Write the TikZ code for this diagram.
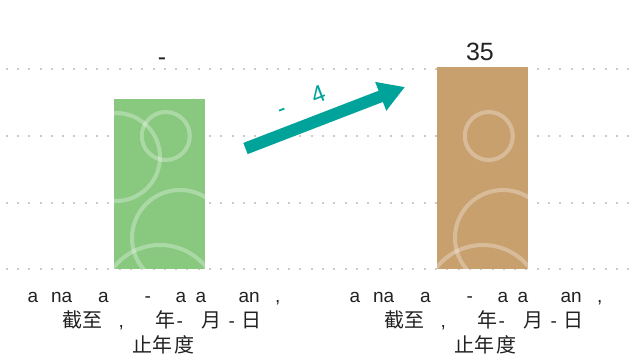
\documentclass[tikz,border=0pt]{standalone}
\usepackage{fontspec}
\setmainfont{Liberation Sans}
\newfontfamily\cjkf{Noto Sans CJK SC}
\usetikzlibrary{arrows.meta}
\definecolor{barGreen}{HTML}{88C97F}
\definecolor{barBrown}{HTML}{C8A06E}
\definecolor{tealArrow}{HTML}{00A39A}
\definecolor{gridDot}{HTML}{CFCBC6}
\definecolor{txt}{HTML}{222222}
\newcommand\pc[2]{\makebox[0pt][l]{\hspace*{#1pt}#2}}
\newcommand\lt{\fontsize{19}{24}\selectfont}
\newcommand\ck{\cjkf\fontsize{20}{24}\selectfont}
\begin{document}
\begin{tikzpicture}[x=1pt,y=-1pt,
  griddot/.style={fill=gridDot, draw=none},
  barbox/.style={draw=none, inner sep=0pt, minimum width=91pt, anchor=south west},
  ring/.style={white, opacity=0.3, line width=4pt},
  lbl/.style={anchor=base west, inner sep=0pt, text=txt},
  val/.style={anchor=base, inner sep=0pt, text=txt, font=\fontsize{25}{30}\selectfont}]
\useasboundingbox (0,0) rectangle (633,359);
% grid lines (dotted)
\foreach \yy in {69,136,203,269}{
  \foreach \i in {0,...,55}{
    \fill[griddot] (6.6+11.3*\i-1,\yy-1) rectangle ++(2,2);
  }
}
% bars
\node (gbar) [barbox, fill=barGreen, minimum height=170pt] at (114,269) {};
\node (bbar) [barbox, fill=barBrown, minimum height=202pt] at (437,269) {};
\begin{scope}
  \clip (gbar.south west) rectangle (gbar.north east);
  \draw[ring] (165.8,136) circle[radius=24pt];
  \draw[ring] (116,157) circle[radius=44pt];
  \draw[ring] (180,238) circle[radius=48pt];
  \draw[ring] (160,304) circle[radius=59pt];
\end{scope}
\begin{scope}
  \clip (bbar.south west) rectangle (bbar.north east);
  \draw[ring] (488.8,136) circle[radius=24pt];
  \draw[ring] (503,238) circle[radius=48pt];
  \draw[ring] (483,304) circle[radius=59pt];
\end{scope}
% values
\node (gval) [val] at (162,65) {-};
\node (bval) [val] at (480,60) {35};
% arrow
\coordinate (atail) at (245.5,148.5);
\coordinate (ahead) at (405,87);
\draw[tealArrow, line width=12pt, -{Triangle[length=26pt,width=29pt]}] (atail) -- (ahead);
\node (chg) [rotate=21, inner sep=0pt, text=tealArrow, font=\fontsize{24}{28}\selectfont] at (301,101) {-\hspace{29pt}4};
% category labels, left
\node (gl1) [lbl] at (0,302) {\lt\pc{27}{a}\pc{50.5}{na}\pc{97.5}{a}\pc{144}{-}\pc{175}{a}\pc{195}{a}\pc{238}{an}\pc{274.5}{,}};
\node (gl2) [lbl] at (0,327) {\pc{62}{\ck 截}\pc{82}{\ck 至}\pc{118}{\lt ,}\pc{155}{\ck 年}\pc{176}{\lt -}\pc{201}{\ck 月}\pc{228}{\lt -}\pc{241}{\ck 日}};
\node (gl3) [lbl] at (0,352) {\ck\pc{132}{止}\pc{152}{年}\pc{174}{度}};
% category labels, right
\node (bl1) [lbl] at (322,302) {\lt\pc{27}{a}\pc{50.5}{na}\pc{97.5}{a}\pc{144}{-}\pc{175}{a}\pc{195}{a}\pc{238}{an}\pc{274.5}{,}};
\node (bl2) [lbl] at (322,327) {\pc{62}{\ck 截}\pc{82}{\ck 至}\pc{118}{\lt ,}\pc{155}{\ck 年}\pc{176}{\lt -}\pc{201}{\ck 月}\pc{228}{\lt -}\pc{241}{\ck 日}};
\node (bl3) [lbl] at (322,352) {\ck\pc{132}{止}\pc{152}{年}\pc{174}{度}};
\end{tikzpicture}
\end{document}
